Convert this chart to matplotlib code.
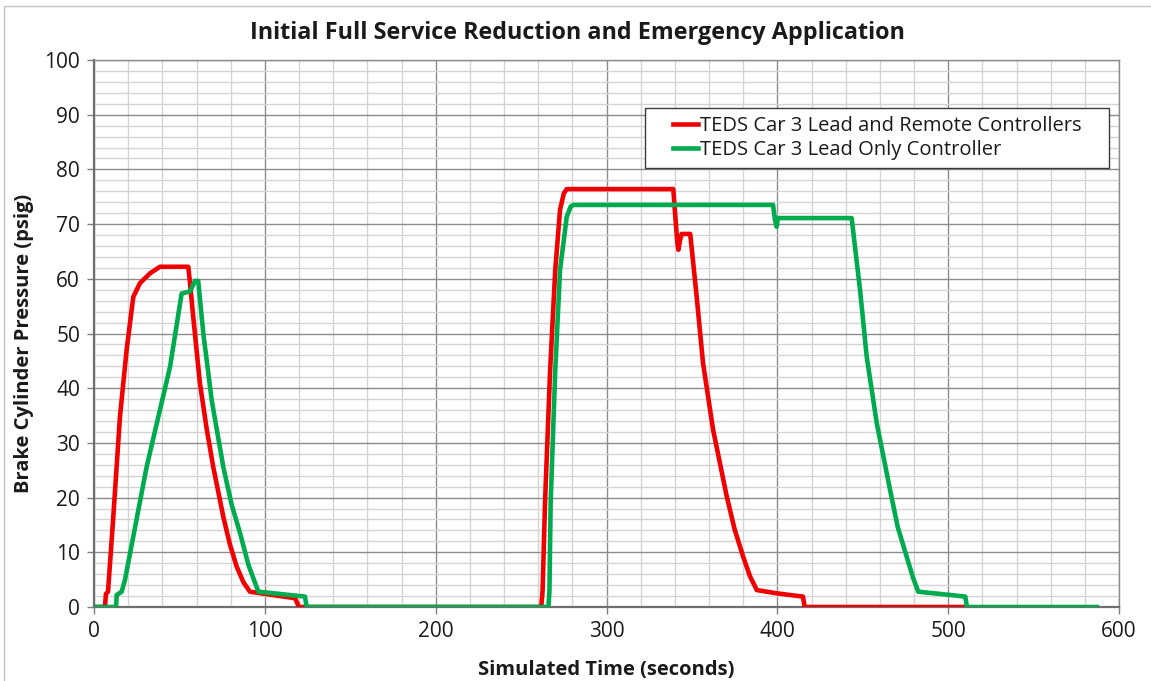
"""Brake cylinder pressure for car 3: full service reduction, then emergency."""

import matplotlib

matplotlib.use("Agg")
import matplotlib.pyplot as plt
from matplotlib.patches import Rectangle
from matplotlib.ticker import MultipleLocator

plt.rcParams["font.family"] = ["Open Sans", "DejaVu Sans"]

TITLE = "Initial Full Service Reduction and Emergency Application"
X_LABEL = "Simulated Time (seconds)"
Y_LABEL = "Brake Cylinder Pressure (psig)"
LABEL_LEAD_REMOTE = "TEDS Car 3 Lead and Remote Controllers"
LABEL_LEAD_ONLY = "TEDS Car 3 Lead Only Controller"

# values (seconds, psig)
lead_remote_time = [
    0, 6.4, 7.0, 8.2, 11.3, 15.2, 19.1, 23.0, 26.9, 32.8, 38.6, 55.2,
    56.2, 58.1, 62.0, 66.0, 69.8, 75.7, 79.5, 83.5, 87.5, 91.3, 117.7, 120.0,
    261.8, 262.6, 264.0, 267.0, 270.0, 272.8, 275.0, 276.7, 339.1,
    340.5, 341.5, 342.1, 343.0, 344.0, 349.0, 352.8, 356.5, 362.4,
    370.4, 375.0, 380.0, 384.0, 388.0, 399.6, 415.0, 416.0, 509.0,
]
lead_remote_psig = [
    0, 0, 2.4, 2.8, 16.5, 34.8, 47.0, 56.7, 59.2, 61.0, 62.2, 62.2,
    59.2, 53.0, 40.9, 32.5, 25.6, 16.5, 11.5, 7.4, 4.5, 2.8, 1.6, 0,
    0, 3.0, 19.0, 43.3, 61.6, 72.6, 75.6, 76.4, 76.4,
    70.5, 66.5, 65.3, 67.0, 68.2, 68.2, 56.7, 44.6, 32.4,
    20.2, 14.2, 9.2, 5.6, 3.1, 2.5, 1.9, 0, 0,
]

lead_only_time = [
    0, 12.9, 13.3, 16.2, 18.1, 30.8, 44.5, 51.3, 56.2, 59.1, 61.0,
    64.0, 68.9, 75.7, 80.5, 85.5, 90.5, 96.2, 123.5, 124.5,
    266.0, 266.6, 267.3, 270.0, 272.8, 276.7, 279.0, 280.6, 397.5,
    398.5, 399.6, 400.3, 443.5, 448.4, 452.3, 458.2, 466.0, 470.5, 475.7,
    479.5, 482.5, 501.0, 510.0, 511.0, 587.0,
]
lead_only_psig = [
    0, 0, 2.2, 2.8, 4.9, 25.6, 43.9, 57.3, 57.7, 59.6, 59.6,
    50.0, 37.8, 25.6, 18.8, 13.5, 7.6, 2.8, 1.9, 0,
    0, 3.0, 19.0, 43.3, 61.6, 71.3, 73.2, 73.5, 73.5,
    71.0, 69.5, 71.1, 71.1, 58.0, 45.8, 33.6, 21.4, 14.6, 9.2,
    5.3, 2.8, 2.2, 1.9, 0, 0,
]

RED = "#F00000"
GREEN = "#00AA4F"

fig = plt.figure(figsize=(11.51, 6.81), dpi=100)
ax = fig.add_axes([94 / 1151, 1 - 607 / 681, 1025 / 1151, 547 / 681])

ax.plot(lead_remote_time, lead_remote_psig, color=RED, lw=3.3,
        solid_joinstyle="round", label=LABEL_LEAD_REMOTE, zorder=3)
ax.plot(lead_only_time, lead_only_psig, color=GREEN, lw=3.3,
        solid_joinstyle="round", label=LABEL_LEAD_ONLY, zorder=3)

ax.set_xlim(0, 600)
ax.set_ylim(0, 100)
ax.xaxis.set_major_locator(MultipleLocator(100))
ax.xaxis.set_minor_locator(MultipleLocator(20))
ax.yaxis.set_major_locator(MultipleLocator(10))
ax.yaxis.set_minor_locator(MultipleLocator(2))
ax.grid(which="minor", color="#d4d4d4", lw=1.0, zorder=0)
ax.grid(which="major", color="#8c8c8c", lw=1.0, zorder=1)
ax.set_axisbelow(True)
ax.tick_params(which="major", direction="out", length=5, width=1.0,
               color="#7f7f7f", labelsize=15, pad=5, labelcolor="#1a1a1a")
ax.tick_params(which="minor", length=0)
for side in ("left", "bottom"):
    ax.spines[side].set_color("#6f6f6f")
    ax.spines[side].set_linewidth(1.6)
for side in ("top", "right"):
    ax.spines[side].set_color("#8c8c8c")
    ax.spines[side].set_linewidth(1.0)

# chart title is centred on the whole picture, axis titles on the plot area
fig.text(577 / 1151, 1 - 33 / 681, TITLE, ha="center", va="center",
         fontsize=16.8, fontweight="bold", color="#1a1a1a")
ax.set_xlabel(X_LABEL, fontsize=14.5, fontweight="bold", labelpad=13, color="#1a1a1a")
ax.set_ylabel(Y_LABEL, fontsize=14.5, fontweight="bold", color="#1a1a1a")
ax.yaxis.set_label_coords(-60 / 1025, (607 - 343) / 547)

# legend box drawn by hand so the wide side padding matches
box_x0, box_x1 = (645 - 94) / 1025, (1109 - 94) / 1025
box_y0, box_y1 = (607 - 168) / 547, (607 - 108) / 547
ax.add_patch(Rectangle((box_x0, box_y0), box_x1 - box_x0, box_y1 - box_y0,
                       transform=ax.transAxes, facecolor="white",
                       edgecolor="#3a3a3a", lw=1.0, zorder=4))
ax.legend(loc="center left", bbox_to_anchor=((673 - 94) / 1025, (box_y0 + box_y1) / 2),
          frameon=False, fontsize=14.5, handlelength=1.25, handletextpad=0.1,
          borderpad=0, borderaxespad=0, labelspacing=0.2, labelcolor="#1a1a1a")

fig.add_artist(Rectangle((4 / 1151, -0.01), 1.02, 1 - 6 / 681 + 0.01,
                         transform=fig.transFigure, fill=False,
                         edgecolor="#c4c4c4", lw=1.0))

fig.savefig("out.png", dpi=100, facecolor="white")
